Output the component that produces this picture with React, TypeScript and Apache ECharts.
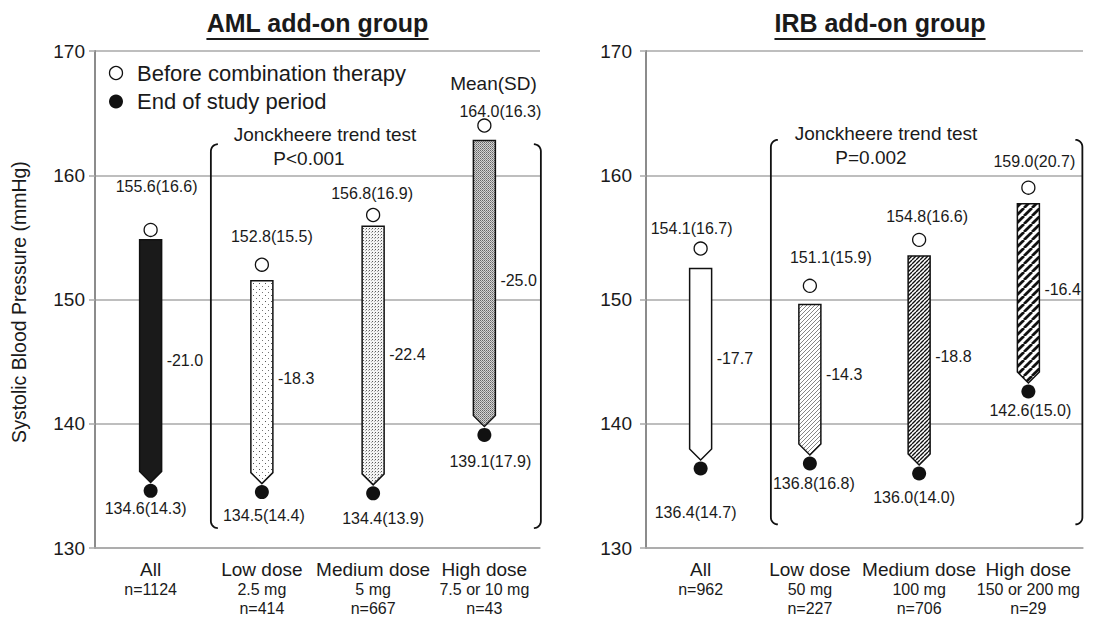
import React, { useEffect, useRef } from "react";
import * as echarts from "echarts";

// ---------- data ----------
const amlCategories = ["All", "Low dose", "Medium dose", "High dose"];
const amlDoses = ["", "2.5 mg", "5 mg", "7.5 or 10 mg"];
const amlN = [1124, 414, 667, 43];
const amlBefore = [155.6, 152.8, 156.8, 164.0];
const amlBeforeSD = [16.6, 15.5, 16.9, 16.3];
const amlAfter = [134.6, 134.5, 134.4, 139.1];
const amlAfterSD = [14.3, 14.4, 13.9, 17.9];
const amlChange = [-21.0, -18.3, -22.4, -25.0];
const amlBarTop = [154.8, 151.5, 155.9, 162.8];
const amlBracket = [1, 3, 162.5, 131.6];

const irbCategories = ["All", "Low dose", "Medium dose", "High dose"];
const irbDoses = ["", "50 mg", "100 mg", "150 or 200 mg"];
const irbN = [962, 227, 706, 29];
const irbBefore = [154.1, 151.1, 154.8, 159.0];
const irbBeforeSD = [16.7, 15.9, 16.6, 20.7];
const irbAfter = [136.4, 136.8, 136.0, 142.6];
const irbAfterSD = [14.7, 16.8, 14.0, 15.0];
const irbChange = [-17.7, -14.3, -18.8, -16.4];
const irbBarTop = [152.5, 149.6, 153.5, 157.7];
const irbBracket = [1, 3, 162.85, 131.9];

const yMin = 130;
const yMax = 170;
const yInterval = 10;

// ---------- layout (pixel offsets of labels relative to their circles) ----------
const amlBeforeLabelOffset = [[6, -43], [10, -28], [-1, -22], [16, -14]];
const amlAfterLabelOffset = [[-5, 18], [2, 23], [10, 25], [6, 27]];
const irbBeforeLabelOffset = [[-9, -20], [21, -28], [8, -23], [6, -26]];
const irbAfterLabelOffset = [[-5, 44], [4, 20], [-5, 24], [2, 19]];

const FONT = "'Liberation Sans', Arial, Helvetica, sans-serif";
const TEXT = "#1a1a1a";
const GRIDC = "#a8a8a8";
const BAR_W = 22;
const TIP_GAP = 8.5;

function tile(w: number, h: number, draw: (ctx: CanvasRenderingContext2D) => void) {
  const c = document.createElement("canvas");
  c.width = w;
  c.height = h;
  const ctx = c.getContext("2d") as CanvasRenderingContext2D;
  draw(ctx);
  return { image: c, repeat: "repeat", imageWidth: w, imageHeight: h } as any;
}

function dots(w: number, h: number, bg: string, pts: [number, number, string][]) {
  return tile(w, h, (ctx) => {
    ctx.fillStyle = bg;
    ctx.fillRect(0, 0, w, h);
    pts.forEach(([x, y, c]) => {
      ctx.fillStyle = c;
      ctx.fillRect(x, y, 1, 1);
    });
  });
}

function diag(s: number, lw: number, color: string) {
  return tile(s, s, (ctx) => {
    ctx.fillStyle = "#ffffff";
    ctx.fillRect(0, 0, s, s);
    ctx.strokeStyle = color;
    ctx.lineWidth = lw;
    ctx.beginPath();
    for (let k = -1; k <= 1; k++) {
      ctx.moveTo(k * s, s);
      ctx.lineTo(k * s + s, 0);
    }
    ctx.stroke();
  });
}

function measure(text: string, font: string) {
  const c = document.createElement("canvas");
  const ctx = c.getContext("2d") as CanvasRenderingContext2D;
  ctx.font = font;
  return ctx.measureText(text).width;
}

function barRenderer(fills: any[], change: number[]) {
  return (params: any, api: any) => {
    const i = api.value(0);
    const topP = api.coord([i, api.value(1)]);
    const afterP = api.coord([i, api.value(2)]);
    const midP = api.coord([i, (api.value(2) + api.value(3)) / 2]);
    const hw = BAR_W / 2;
    const cx = topP[0];
    const tip = afterP[1] - TIP_GAP;
    const sh = tip - 11;
    return {
      type: "group",
      children: [
        {
          type: "polygon",
          shape: {
            points: [
              [cx - hw, topP[1]],
              [cx + hw, topP[1]],
              [cx + hw, sh],
              [cx, tip],
              [cx - hw, sh],
            ],
          },
          style: { fill: fills[params.dataIndex], stroke: "#111111", lineWidth: 1.5 },
        },
        {
          type: "text",
          x: cx + hw + 5,
          y: midP[1],
          style: {
            text: change[params.dataIndex].toFixed(1),
            fontSize: 16,
            fontFamily: FONT,
            fill: TEXT,
            align: "left",
            textAlign: "left",
            verticalAlign: "middle",
            textVerticalAlign: "middle",
          },
        },
      ],
    };
  };
}

function arcPts(cx: number, cy: number, r: number, a0: number, a1: number) {
  const pts: number[][] = [];
  const n = 8;
  for (let k = 0; k <= n; k++) {
    const a = a0 + ((a1 - a0) * k) / n;
    pts.push([cx + r * Math.cos(a), cy + r * Math.sin(a)]);
  }
  return pts;
}

function bracketRenderer(padL: number, padR: number) {
  return (_params: any, api: any) => {
    const a = api.coord([api.value(0), api.value(2)]);
    const b = api.coord([api.value(1), api.value(3)]);
    const xl = a[0] - padL;
    const xr = b[0] + padR;
    const yt = a[1];
    const yb = b[1];
    const r = 7;
    const left = [
      ...arcPts(xl + r, yt + r, r, -Math.PI / 2, -Math.PI),
      ...arcPts(xl + r, yb - r, r, Math.PI, Math.PI / 2),
    ];
    const right = [
      ...arcPts(xr - r, yt + r, r, -Math.PI / 2, 0),
      ...arcPts(xr - r, yb - r, r, 0, Math.PI / 2),
    ];
    const st = { stroke: "#111111", lineWidth: 1.8, fill: null };
    return {
      type: "group",
      children: [
        { type: "polyline", shape: { points: left }, style: st },
        { type: "polyline", shape: { points: right }, style: st },
      ],
    };
  };
}

function buildGroup(
  gi: number,
  cats: string[],
  doses: string[],
  ns: number[],
  before: number[],
  beforeSD: number[],
  after: number[],
  afterSD: number[],
  change: number[],
  barTop: number[],
  bracket: number[],
  fills: any[],
  bOff: number[][],
  aOff: number[][],
  padL: number,
  padR: number,
  yLabelMargin: number
) {
  const xAxis = {
    type: "category",
    gridIndex: gi,
    data: cats,
    boundaryGap: true,
    axisLine: { show: true, lineStyle: { color: GRIDC, width: 1.5 } },
    axisTick: { show: false },
    axisLabel: {
      interval: 0,
      margin: 11,
      color: TEXT,
      fontFamily: FONT,
      formatter: (_v: string, idx: number) => {
        const lines = [`{a|${cats[idx]}}`];
        if (doses[idx]) lines.push(`{b|${doses[idx]}}`);
        lines.push(`{b|n=${ns[idx]}}`);
        return lines.join("\n");
      },
      rich: {
        a: { fontSize: 19, lineHeight: 21, fontFamily: FONT, color: TEXT },
        b: { fontSize: 16, lineHeight: 19, fontFamily: FONT, color: TEXT },
      },
    },
  };
  const yAxis = {
    type: "value",
    gridIndex: gi,
    min: yMin,
    max: yMax,
    interval: yInterval,
    axisLine: { show: true, lineStyle: { color: "#8c8c8c", width: 2 } },
    axisTick: { show: true, length: 6, lineStyle: { color: GRIDC, width: 1.5 } },
    axisLabel: { fontSize: 19, color: TEXT, fontFamily: FONT, margin: yLabelMargin },
    splitLine: { show: true, lineStyle: { color: GRIDC, width: 1.5 } },
  };
  const series: any[] = [
    {
      type: "custom",
      xAxisIndex: gi,
      yAxisIndex: gi,
      z: 1,
      renderItem: bracketRenderer(padL, padR),
      encode: { x: 0, y: 2 },
      data: [bracket],
      silent: true,
    },
    {
      type: "custom",
      xAxisIndex: gi,
      yAxisIndex: gi,
      z: 2,
      renderItem: barRenderer(fills, change),
      encode: { x: 0, y: [1, 2] },
      data: before.map((b, i) => [i, barTop[i], after[i], b, change[i]]),
      silent: true,
    },
    {
      type: "scatter",
      name: "Before combination therapy",
      xAxisIndex: gi,
      yAxisIndex: gi,
      z: 3,
      symbol: "circle",
      symbolSize: 13,
      itemStyle: { color: "#ffffff", borderColor: "#111111", borderWidth: 1.3, opacity: 1 },
      label: {
        show: true,
        position: "inside",
        fontSize: 16,
        fontFamily: FONT,
        color: TEXT,
        formatter: (p: any) => `${before[p.dataIndex].toFixed(1)}(${beforeSD[p.dataIndex].toFixed(1)})`,
      },
      data: before.map((v, i) => ({ value: [i, v], label: { offset: bOff[i] } })),
      silent: true,
    },
    {
      type: "scatter",
      name: "End of study period",
      xAxisIndex: gi,
      yAxisIndex: gi,
      z: 3,
      symbol: "circle",
      symbolSize: 14,
      itemStyle: { color: "#111111", opacity: 1 },
      label: {
        show: true,
        position: "inside",
        fontSize: 16,
        fontFamily: FONT,
        color: TEXT,
        formatter: (p: any) => `${after[p.dataIndex].toFixed(1)}(${afterSD[p.dataIndex].toFixed(1)})`,
      },
      data: after.map((v, i) => ({ value: [i, v], label: { offset: aOff[i] } })),
      silent: true,
    },
  ];
  return { xAxis, yAxis, series };
}

export default function App() {
  const ref = useRef<HTMLDivElement>(null);
  useEffect(() => {
    if (!ref.current) return;
    const chart = echarts.init(ref.current, undefined, { renderer: "svg" });

    const amlFills = [
      "#1a1a1a",
      dots(6, 6, "#ffffff", [[1, 1, "#555555"], [4, 4, "#777777"]]),
      dots(3, 3, "#f4f4f4", [[0, 0, "#5a5a5a"], [2, 1, "#b0b0b0"]]),
      dots(2, 2, "#d4d4d4", [[0, 0, "#666666"], [1, 1, "#8a8a8a"]]),
    ];
    const irbFills = ["#ffffff", diag(4, 0.8, "#666666"), diag(4, 1.4, "#111111"), diag(8, 2.8, "#111111")];

    const g0 = buildGroup(0, amlCategories, amlDoses, amlN, amlBefore, amlBeforeSD, amlAfter, amlAfterSD,
      amlChange, amlBarTop, amlBracket, amlFills, amlBeforeLabelOffset, amlAfterLabelOffset, 51, 56.5, 10);
    const g1 = buildGroup(1, irbCategories, irbDoses, irbN, irbBefore, irbBeforeSD, irbAfter, irbAfterSD,
      irbChange, irbBarTop, irbBracket, irbFills, irbBeforeLabelOffset, irbAfterLabelOffset, 39, 54, 14);

    const titleFont = `bold 25px ${FONT}`;
    const t1 = "AML add-on group";
    const t2 = "IRB add-on group";
    const w1 = measure(t1, titleFont);
    const w2 = measure(t2, titleFont);
    const c1 = 317.5;
    const c2 = 880;
    const tY = 23;
    const uY = 39;

    const txt = (text: string, x: number, y: number, size: number, extra: any = {}) => ({
      type: "text",
      x,
      y,
      silent: true,
      style: {
        text,
        fontSize: size,
        fontFamily: FONT,
        fill: TEXT,
        align: "center",
        verticalAlign: "middle",
        ...extra,
      },
    });

    const option: any = {
      animation: false,
      backgroundColor: "#ffffff",
      grid: [
        { left: 95, right: 558, top: 51, bottom: 72 },
        { left: 646, right: 15, top: 51, bottom: 72 },
      ],
      xAxis: [g0.xAxis, g1.xAxis],
      yAxis: [g0.yAxis, g1.yAxis],
      series: [...g0.series, ...g1.series],
      graphic: [
        txt(t1, c1, tY, 25, { fontWeight: "bold" }),
        txt(t2, c2, tY, 25, { fontWeight: "bold" }),
        { type: "line", silent: true, shape: { x1: c1 - w1 / 2, y1: uY, x2: c1 + w1 / 2, y2: uY }, style: { stroke: TEXT, lineWidth: 2 } },
        { type: "line", silent: true, shape: { x1: c2 - w2 / 2, y1: uY, x2: c2 + w2 / 2, y2: uY }, style: { stroke: TEXT, lineWidth: 2 } },
        { ...txt("Systolic Blood Pressure (mmHg)", 19, 302, 19.5), rotation: Math.PI / 2 },
        { type: "circle", silent: true, shape: { cx: 116, cy: 73, r: 6.5 }, style: { fill: "#ffffff", stroke: "#111111", lineWidth: 1.3 } },
        { type: "circle", silent: true, shape: { cx: 116, cy: 101.5, r: 7 }, style: { fill: "#111111" } },
        txt("Before combination therapy", 137, 73, 22, { align: "left" }),
        txt("End of study period", 137, 101.5, 22, { align: "left" }),
        txt("Mean(SD)", 493.5, 83, 19),
        txt("Jonckheere trend test", 325, 134, 19),
        txt("P<0.001", 309, 158, 19),
        txt("Jonckheere trend test", 886, 133, 19),
        txt("P=0.002", 871, 157, 19),
      ],
    };
    chart.setOption(option);
    return () => chart.dispose();
  }, []);
  return (
    <div
      ref={ref}
      style={{ position: "absolute", left: 0, top: 0, width: 1098, height: 620, background: "#ffffff" }}
    />
  );
}
